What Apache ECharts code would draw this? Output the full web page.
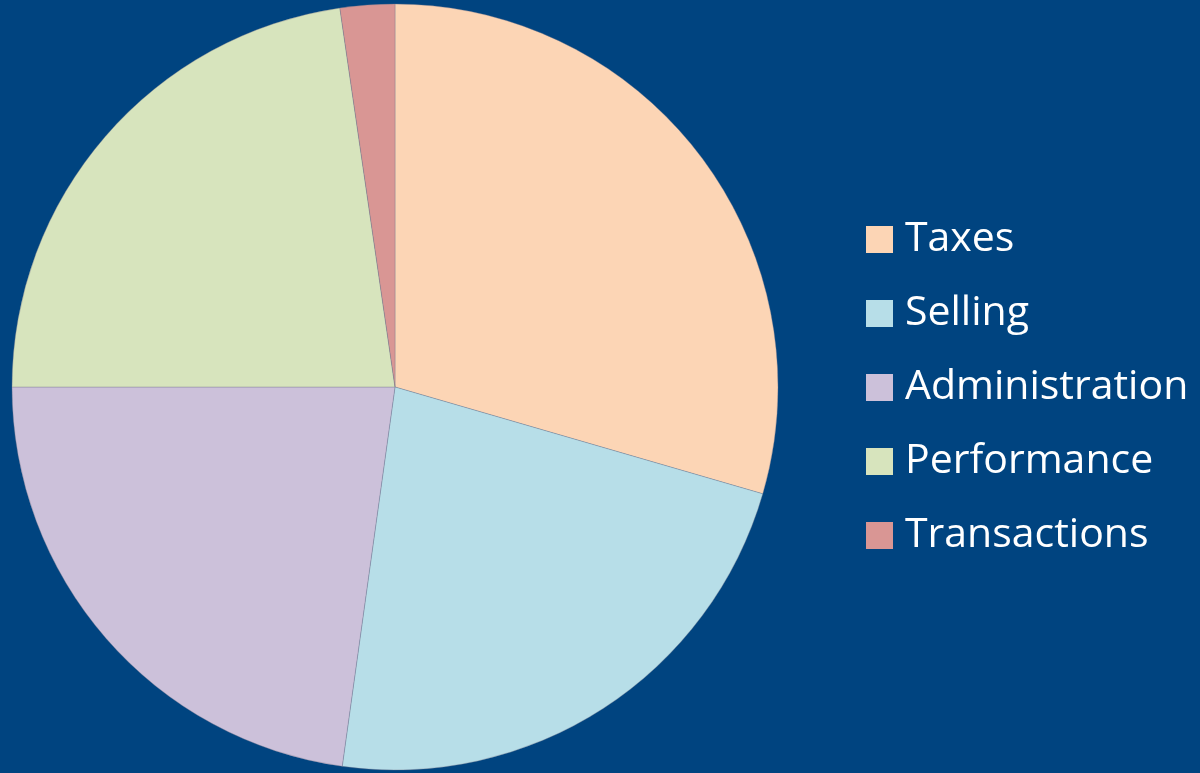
<!DOCTYPE html>
<html><head><meta charset="utf-8">
<script src="https://cdn.jsdelivr.net/npm/echarts@6/dist/echarts.min.js"></script>
<style>html,body{margin:0;padding:0;background:#004480;}#c{width:1200px;height:773px;}</style>
</head><body><div id="c"></div>
<script>
const categories = ['Taxes', 'Selling', 'Administration', 'Performance', 'Transactions'];
const values = [29.5, 22.7, 22.8, 22.7, 2.3];
const colors = ['#FCD5B5', '#B7DEE8', '#CCC1DA', '#D7E4BD', '#D99694'];

const chart = echarts.init(document.getElementById('c'));
chart.setOption({
  backgroundColor: '#004480',
  animation: false,
  color: colors,
  legend: {
    orient: 'vertical',
    left: 866, top: 219,
    padding: 0,
    itemWidth: 27, itemHeight: 27, itemGap: 33,
    icon: 'rect',
    itemStyle: { borderWidth: 0 },
    textStyle: { color: '#ffffff', fontSize: 41, fontFamily: 'Open Sans', padding: [0, 0, 0, 7] },
    data: categories
  },
  series: [{
    type: 'pie',
    center: [395, 387],
    radius: [0, 383],
    startAngle: 90,
    clockwise: true,
    label: { show: false },
    labelLine: { show: false },
    itemStyle: { borderColor: 'rgba(120,120,140,0.6)', borderWidth: 0.6 },
    emphasis: { disabled: true },
    data: categories.map((c, i) => ({ name: c, value: values[i] }))
  }]
});
</script></body></html>
